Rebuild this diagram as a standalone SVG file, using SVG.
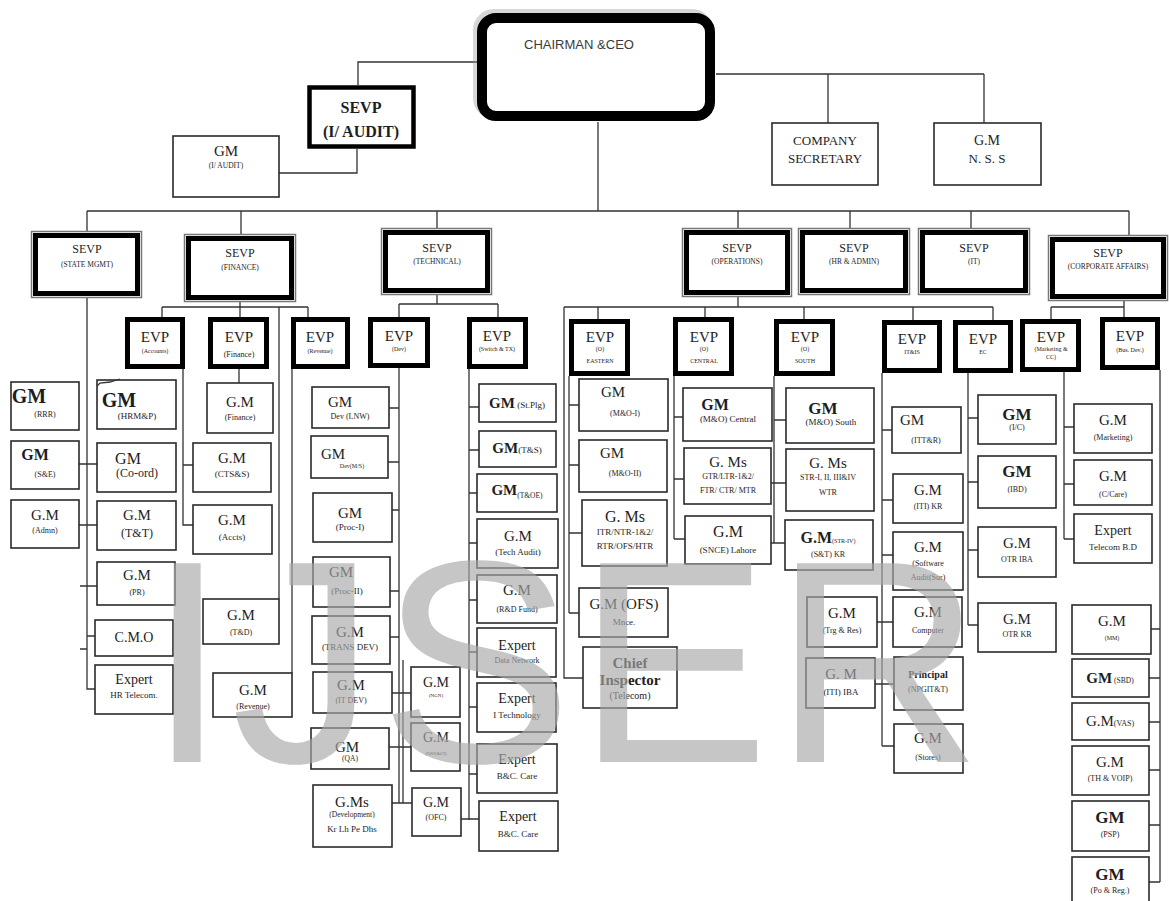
<svg xmlns="http://www.w3.org/2000/svg" width="1169" height="901" viewBox="0 0 1169 901">
<style>
.b{fill:#fff;stroke:#2a2a2a;stroke-width:1.6}
.e{fill:#fff;stroke:#000;stroke-width:5}
.so{fill:#fff;stroke:#777;stroke-width:1.5}
.si{fill:none;stroke:#000;stroke-width:5}
.c path{fill:none;stroke:#333;stroke-width:1.3}
text{font-family:"Liberation Serif","Times New Roman",serif;fill:#1e1e1e;text-anchor:middle}
.L{font-size:15px}
.G{font-size:17px;font-weight:bold}
.s{font-size:8px}
.m{font-size:9px}
.t{font-size:6px}
.v{font-size:12px}
.x{font-size:7.5px}
</style>
<rect width="1169" height="901" fill="#fff"/>

<g class="c" id="connectors">
<path d="M478,62 H358 V85"/>
<path d="M357,149 V173 H279"/>
<path d="M716,74 H984 M828,74 V123 M984,74 V123"/>
<path d="M598,122 V211 M87,211 H1129"/>
<path d="M87,211 V231 M241,211 V234 M437,211 V228 M738,211 V228 M850,211 V228 M971,211 V228 M1129,211 V235"/>
<path d="M240,302 V307 M162,307 H308 M162,307 V317 M240,307 V317 M308,307 V317 M279,307 V599"/>
<path d="M239,369 V383"/>
<path d="M183,369 V525 H193 M183,465 H193"/>
<path d="M292,368 V673"/>
<path d="M87,297 V689 H95 M79,464 H97 M79,525 H97 M80,586 H97 M87,636 H95 M80,649 H87"/>
<path d="M437,295 V304 M399,304 H498 M399,304 V317 M498,304 V317"/>
<path d="M399,368 V803 M403,660 V803 M389,408 H399 M388,462 H399 M392,510 H399 M390,591 H399 M390,637 H399 M392,693 H411 M389,747 H411 M392,803 H412"/>
<path d="M469,369 V820 M469,407 H479 M469,450 H479 M469,493 H477 M469,543 H477 M469,600 H477 M469,652 H477 M469,707 H477 M469,774 H477 M461,819 H479"/>
<path d="M738,297 V307 M564,307 H993 M564,307 V678 H583 M598,307 V319 M705,307 V317 M804,307 V319 M913,307 V320 M993,307 V320"/>
<path d="M569,376 V613 M569,405 H579 M569,465 H579 M569,533 H582 M569,613 H579"/>
<path d="M674,376 V539 M674,417 H683 M674,479 H684 M674,539 H685"/>
<path d="M774,376 V543 M774,420 H786 M771,483 H786 M771,543 H785"/>
<path d="M882,373 V746 M882,430 H892 M882,500 H893 M882,555 H893 M877,622 H893 M875,684 H894 M882,746 H894"/>
<path d="M968,373 V625 M968,418 H978 M968,482 H978 M968,550 H978 M968,625 H978"/>
<path d="M1124,301 V317 M1051,307 H1124 M1051,307 V319"/>
<path d="M1064,372 V539 M1064,427 H1074 M1064,484 H1074 M1064,539 H1074"/>
<path d="M1160,370 V882 M1151,629 H1160 M1149,678 H1160 M1149,722 H1160 M1149,770 H1160 M1149,825 H1160 M1149,882 H1160"/>
</g>

<g id="chairman">
<rect x="479" y="15" width="228" height="98" rx="15" fill="none" stroke="#9a9a9a" stroke-width="12" opacity="0.4"/>
<rect x="482" y="18" width="228" height="98" rx="14" fill="#fff" stroke="#000" stroke-width="10"/>
<text x="524" y="49" style="font-family:'Liberation Sans',Arial,sans-serif;font-size:12.5px;text-anchor:start;fill:#3a3a3a" textLength="110" lengthAdjust="spacingAndGlyphs">CHAIRMAN &amp;CEO</text>
</g>

<g id="sevp-audit">
<rect x="309.5" y="87.5" width="104" height="59" fill="#fff" stroke="#000" stroke-width="4.5"/>
<text x="361" y="113" style="font-size:16px;font-weight:bold">SEVP</text>
<text x="361" y="137" style="font-size:16px;font-weight:bold">(I/ AUDIT)</text>
</g>
<g id="gm-audit"><rect class="b" x="173" y="136" width="106" height="61"/><text class="L" x="226" y="156">GM</text><text class="x" x="226" y="168">(I/ AUDIT)</text></g>
<g id="company-secretary"><rect class="b" x="772" y="123" width="106" height="62"/><text x="825" y="145" style="font-size:13px">COMPANY</text><text x="825" y="163" style="font-size:13px">SECRETARY</text></g>
<g id="gm-nss"><rect class="b" x="934" y="123" width="107" height="62"/><text x="987" y="145" style="font-size:14px">G.M</text><text x="987" y="163" style="font-size:13px">N. S. S</text></g>

<g id="sevp-state"><rect class="so" x="31.5" y="231.5" width="110" height="66"/><rect class="si" x="35.5" y="235.5" width="102" height="58"/><text class="v" x="87" y="253">SEVP</text><text class="x" x="87" y="267">(STATE MGMT)</text></g>
<g id="sevp-finance"><rect class="so" x="184.5" y="234.5" width="111" height="67"/><rect class="si" x="188.5" y="238.5" width="103" height="59"/><text class="v" x="240" y="257">SEVP</text><text class="x" x="240" y="270">(FINANCE)</text></g>
<g id="sevp-technical"><rect class="so" x="381.5" y="228.5" width="110" height="66"/><rect class="si" x="385.5" y="232.5" width="102" height="58"/><text class="v" x="437" y="252">SEVP</text><text class="x" x="437" y="264">(TECHNICAL)</text></g>
<g id="sevp-operations"><rect class="so" x="682.5" y="228.5" width="109" height="68"/><rect class="si" x="686.5" y="232.5" width="101" height="60"/><text class="v" x="737" y="252">SEVP</text><text class="x" x="737" y="264">(OPERATIONS)</text></g>
<g id="sevp-hr"><rect class="so" x="798.5" y="228.5" width="111" height="66"/><rect class="si" x="802.5" y="232.5" width="103" height="58"/><text class="v" x="854" y="252">SEVP</text><text class="x" x="854" y="264">(HR &amp; ADMIN)</text></g>
<g id="sevp-it"><rect class="so" x="918.5" y="228.5" width="111" height="66"/><rect class="si" x="922.5" y="232.5" width="103" height="58"/><text class="v" x="974" y="252">SEVP</text><text class="x" x="974" y="264">(IT)</text></g>
<g id="sevp-corporate"><rect class="so" x="1048.5" y="235.5" width="119" height="65"/><rect class="si" x="1052.5" y="239.5" width="111" height="57"/><text class="v" x="1108" y="257">SEVP</text><text class="x" x="1108" y="269">(CORPORATE AFFAIRS)</text></g>

<g id="evp-accounts"><rect class="e" x="127.5" y="319.5" width="55" height="47"/><text class="L" x="155" y="342">EVP</text><text class="t" x="155" y="353">(Accounts)</text></g>
<g id="evp-finance"><rect class="e" x="210.5" y="319.5" width="56" height="47"/><text class="L" x="239" y="342">EVP</text><text class="s" x="239" y="357">(Finance)</text></g>
<g id="evp-revenue"><rect class="e" x="293.5" y="319.5" width="54" height="47"/><text class="L" x="320" y="342">EVP</text><text class="t" x="320" y="353">(Revenue)</text></g>
<g id="evp-dev"><rect class="e" x="370.5" y="319.5" width="57" height="46"/><text class="L" x="399" y="341">EVP</text><text class="t" x="399" y="351">(Dev)</text></g>
<g id="evp-switch"><rect class="e" x="469.5" y="319.5" width="56" height="47"/><text class="L" x="497" y="341">EVP</text><text class="t" x="497" y="351">(Switch &amp; TX)</text></g>
<g id="evp-eastern"><rect class="e" x="571.5" y="321.5" width="56" height="52"/><text class="L" x="600" y="342">EVP</text><text class="t" x="600" y="351">(O)</text><text class="t" x="600" y="363">EASTERN</text></g>
<g id="evp-central"><rect class="e" x="675.5" y="319.5" width="56" height="54"/><text class="L" x="704" y="342">EVP</text><text class="t" x="704" y="351">(O)</text><text class="t" x="704" y="363">CENTRAL</text></g>
<g id="evp-south"><rect class="e" x="776.5" y="321.5" width="56" height="52"/><text class="L" x="805" y="342">EVP</text><text class="t" x="805" y="351">(O)</text><text class="t" x="805" y="363">SOUTH</text></g>
<g id="evp-itis"><rect class="e" x="884.5" y="322.5" width="55" height="48"/><text class="L" x="912" y="344">EVP</text><text class="t" x="912" y="354">IT&amp;IS</text></g>
<g id="evp-ec"><rect class="e" x="955.5" y="322.5" width="55" height="48"/><text class="L" x="983" y="344">EVP</text><text class="t" x="983" y="354">EC</text></g>
<g id="evp-marketing"><rect class="e" x="1022.5" y="321.5" width="56" height="48"/><text class="L" x="1051" y="342">EVP</text><text class="t" x="1051" y="351">(Marketing &amp;</text><text class="t" x="1051" y="359">CC)</text></g>
<g id="evp-busdev"><rect class="e" x="1102.5" y="319.5" width="55" height="48"/><text class="L" x="1130" y="341">EVP</text><text class="t" x="1130" y="352">(Bus. Dev.)</text></g>

<g id="gm-rrr"><rect class="b" x="11" y="382" width="68" height="48"/><text x="29" y="403" style="font-size:20px;font-weight:bold">GM</text><text class="s" x="45" y="417">(RRR)</text></g>
<g id="gm-se"><rect class="b" x="11" y="441" width="68" height="48"/><text x="35" y="460" style="font-size:16px;font-weight:bold">GM</text><text class="s" x="45" y="477">(S&amp;E)</text></g>
<g id="gm-admn"><rect class="b" x="11" y="500" width="68" height="48"/><text class="L" x="45" y="520">G.M</text><text class="s" x="45" y="533">(Admn)</text></g>

<g id="gm-hrmp"><rect class="b" x="97" y="380" width="79" height="49"/><path d="M97,386 L100,383 L110,382 L120,379" fill="none" stroke="#333" stroke-width="1.3"/><text x="119" y="407" style="font-size:20px;font-weight:bold">GM</text><text class="m" x="137" y="419">(HRM&amp;P)</text></g>
<g id="gm-coord"><rect class="b" x="97" y="443" width="79" height="49"/><text x="128" y="464" style="font-size:16px">GM</text><text x="137" y="477" style="font-size:12px">(Co-ord)</text></g>
<g id="gm-tt"><rect class="b" x="97" y="501" width="79" height="49"/><text class="L" x="137" y="520">G.M</text><text class="v" x="137" y="537">(T&amp;T)</text></g>
<g id="gm-pr"><rect class="b" x="97" y="562" width="78" height="43"/><text class="L" x="137" y="580">G.M</text><text class="s" x="137" y="595">(PR)</text></g>
<g id="cmo"><rect class="b" x="95" y="620" width="78" height="36"/><text x="134" y="642" style="font-size:14px">C.M.O</text></g>
<g id="expert-hr"><rect class="b" x="95" y="665" width="78" height="49"/><text x="134" y="684" style="font-size:14px">Expert</text><text class="m" x="134" y="698">HR Telecom.</text></g>

<g id="gm-finance"><rect class="b" x="207" y="383" width="66" height="50"/><text class="L" x="240" y="407">G.M</text><text class="s" x="240" y="420">(Finance)</text></g>
<g id="gm-ctss"><rect class="b" x="193" y="443" width="78" height="49"/><text class="L" x="232" y="463">G.M</text><text class="m" x="232" y="477">(CTS&amp;S)</text></g>
<g id="gm-accts"><rect class="b" x="193" y="505" width="79" height="49"/><text class="L" x="232" y="525">G.M</text><text class="m" x="232" y="540">(Accts)</text></g>
<g id="gm-td"><rect class="b" x="203" y="599" width="76" height="45"/><text class="L" x="241" y="620">G.M</text><text class="s" x="241" y="635">(T&amp;D)</text></g>
<g id="gm-revenue"><rect class="b" x="213" y="673" width="79" height="44"/><text class="L" x="253" y="695">G.M</text><text class="s" x="253" y="709">(Revenue)</text></g>

<g id="gm-dev-lnw"><rect class="b" x="312" y="387" width="77" height="41"/><text class="L" x="340" y="407">GM</text><text class="s" x="350" y="419">Dev (LNW)</text></g>
<g id="gm-dev-ms"><rect class="b" x="311" y="436" width="77" height="42"/><text class="L" x="333" y="459">GM</text><text class="t" x="352" y="468">Dev(M/S)</text></g>
<g id="gm-proc1"><rect class="b" x="313" y="493" width="79" height="49"/><text class="L" x="350" y="518">GM</text><text class="m" x="350" y="530">(Proc-I)</text></g>
<g id="gm-proc2"><rect class="b" x="313" y="557" width="77" height="50"/><text class="L" x="341" y="577">GM</text><text class="m" x="347" y="594">(Proc-II)</text></g>
<g id="gm-transdev"><rect class="b" x="312" y="616" width="78" height="48"/><text class="L" x="350" y="637">G.M</text><text class="m" x="350" y="650">(TRANS DEV)</text></g>
<g id="gm-itdev"><rect class="b" x="313" y="672" width="79" height="41"/><text class="L" x="351" y="690">G.M</text><text class="s" x="351" y="703">(IT DEV)</text></g>
<g id="gm-qa"><rect class="b" x="311" y="728" width="78" height="41"/><text class="L" x="347" y="752">GM</text><text class="x" x="350" y="761">(QA)</text></g>
<g id="gms-development"><rect class="b" x="313" y="785" width="79" height="62"/><text class="L" x="352" y="807">G.Ms</text><text class="x" x="352" y="817">(Development)</text><text class="m" x="352" y="832">Kr Lh Pe Dhs</text></g>
<g id="gm-ngn"><rect class="b" x="411" y="667" width="49" height="50"/><text x="436" y="687" style="font-size:14px">G.M</text><text x="436" y="697" style="font-size:5px">(NGN)</text></g>
<g id="gm-oss"><rect class="b" x="411" y="723" width="49" height="48"/><text x="436" y="742" style="font-size:14px">G.M</text><text x="436" y="755" style="font-size:5px">(OSS&amp;CI)</text></g>
<g id="gm-ofc"><rect class="b" x="412" y="788" width="49" height="48"/><text x="436" y="807" style="font-size:14px">G.M</text><text class="s" x="436" y="820">(OFC)</text></g>

<g id="gm-stplg"><rect class="b" x="479" y="384" width="77" height="38"/><text x="517" y="408"><tspan style="font-size:15px;font-weight:bold">GM</tspan><tspan class="m"> (St.Plg)</tspan></text></g>
<g id="gm-ts"><rect class="b" x="479" y="431" width="77" height="36"/><text x="517" y="453"><tspan style="font-size:15px;font-weight:bold">GM</tspan><tspan class="m">(T&amp;S)</tspan></text></g>
<g id="gm-toe"><rect class="b" x="477" y="474" width="80" height="38"/><text x="517" y="495"><tspan style="font-size:15px;font-weight:bold">GM</tspan><tspan class="x" dy="3">(T&amp;OE)</tspan></text></g>
<g id="gm-techaudit"><rect class="b" x="477" y="519" width="81" height="49"/><text class="L" x="518" y="541">G.M</text><text class="m" x="518" y="555">(Tech Audit)</text></g>
<g id="gm-rdfund"><rect class="b" x="477" y="575" width="80" height="48"/><text class="L" x="517" y="595">G.M</text><text class="s" x="517" y="612">(R&amp;D Fund)</text></g>
<g id="expert-data"><rect class="b" x="477" y="628" width="79" height="49"/><text x="517" y="650" style="font-size:14px">Expert</text><text class="s" x="517" y="663">Data Network</text></g>
<g id="expert-itech"><rect class="b" x="477" y="683" width="79" height="49"/><text x="517" y="703" style="font-size:14px">Expert</text><text class="m" x="517" y="718">I Technology</text></g>
<g id="expert-bc1"><rect class="b" x="477" y="744" width="80" height="49"/><text x="517" y="764" style="font-size:14px">Expert</text><text class="m" x="517" y="779">B&amp;C. Care</text></g>
<g id="expert-bc2"><rect class="b" x="479" y="801" width="79" height="50"/><text x="518" y="821" style="font-size:14px">Expert</text><text class="m" x="518" y="837">B&amp;C. Care</text></g>

<g id="gm-mo1"><rect class="b" x="579" y="379" width="89" height="52"/><text class="L" x="613" y="397">GM</text><text class="s" x="625" y="416">(M&amp;O-I)</text></g>
<g id="gm-mo2"><rect class="b" x="579" y="440" width="88" height="52"/><text class="L" x="612" y="458">GM</text><text class="s" x="625" y="476">(M&amp;O-II)</text></g>
<g id="gms-itr"><rect class="b" x="582" y="500" width="85" height="66"/><text x="625" y="522" style="font-size:16px">G. Ms</text><text class="m" x="625" y="535">ITR/NTR-1&amp;2/</text><text class="m" x="625" y="549">RTR/OFS/HTR</text></g>
<g id="gm-ofs"><rect class="b" x="579" y="588" width="89" height="49"/><text class="L" x="624" y="609">G.M (OFS)</text><text class="m" x="624" y="625">Mnce.</text></g>
<g id="chief-inspector"><rect class="b" x="583" y="647" width="94" height="61"/><text x="630" y="668" style="font-size:15px;font-weight:bold">Chief</text><text x="630" y="685" style="font-size:15px;font-weight:bold">Inspector</text><text x="630" y="699" style="font-size:10px">(Telecom)</text></g>

<g id="gm-mo-central"><rect class="b" x="683" y="388" width="89" height="53"/><text x="715" y="410" style="font-size:16px;font-weight:bold">GM</text><text class="m" x="728" y="422">(M&amp;O) Central</text></g>
<g id="gms-gtr"><rect class="b" x="684" y="448" width="87" height="56"/><text class="L" x="728" y="467">G. Ms</text><text class="s" x="728" y="479">GTR/LTR-1&amp;2/</text><text class="s" x="728" y="493">FTR/ CTR/ MTR</text></g>
<g id="gm-snce"><rect class="b" x="685" y="516" width="86" height="48"/><text x="728" y="537" style="font-size:16px">G.M</text><text class="m" x="728" y="553">(SNCE) Lahore</text></g>

<g id="gm-mo-south"><rect class="b" x="786" y="388" width="88" height="55"/><text class="G" x="823" y="414">GM</text><text class="m" x="831" y="425">(M&amp;O) South</text></g>
<g id="gms-str"><rect class="b" x="786" y="449" width="88" height="62"/><text class="L" x="828" y="468">G. Ms</text><text class="s" x="828" y="480">STR-I, II, III&amp;IV</text><text class="s" x="828" y="495">WTR</text></g>
<g id="gm-str4"><rect class="b" x="785" y="520" width="88" height="50"/><text x="828" y="543"><tspan style="font-size:16px;font-weight:bold">G.M</tspan><tspan class="t">(STR-IV)</tspan></text><text class="s" x="828" y="557">(S&amp;T) KR</text></g>
<g id="gm-trg"><rect class="b" x="807" y="597" width="70" height="50"/><text class="L" x="842" y="618">G.M</text><text class="s" x="842" y="633">(Trg &amp; Res)</text></g>
<g id="gm-iti-iba"><rect class="b" x="806" y="658" width="69" height="50"/><text class="L" x="841" y="679">G. M</text><text class="m" x="841" y="695">(ITI) IBA</text></g>

<g id="gm-ittr"><rect class="b" x="892" y="407" width="69" height="46"/><text class="L" x="912" y="425">GM</text><text class="s" x="926" y="443">(ITT&amp;R)</text></g>
<g id="gm-iti-kr"><rect class="b" x="893" y="474" width="70" height="49"/><text class="L" x="928" y="495">G.M</text><text class="s" x="928" y="509">(ITI) KR</text></g>
<g id="gm-software"><rect class="b" x="893" y="532" width="70" height="58"/><text class="L" x="928" y="552">G.M</text><text class="s" x="928" y="566">(Software</text><text class="s" x="928" y="580">Audit(Sur)</text></g>
<g id="gm-computer"><rect class="b" x="893" y="597" width="69" height="50"/><text class="L" x="928" y="617">G.M</text><text class="s" x="928" y="633">Computer</text></g>
<g id="principal"><rect class="b" x="894" y="657" width="69" height="53"/><text x="928" y="678" style="font-size:10px;font-weight:bold">Principal</text><text class="s" x="928" y="692">(NPGIT&amp;T)</text></g>
<g id="gm-stores"><rect class="b" x="894" y="724" width="69" height="49"/><text class="L" x="928" y="743">G.M</text><text class="s" x="928" y="760">(Stores)</text></g>

<g id="gm-ic"><rect class="b" x="978" y="395" width="78" height="49"/><text class="G" x="1017" y="420">GM</text><text class="s" x="1017" y="430">(I/C)</text></g>
<g id="gm-ibd"><rect class="b" x="978" y="456" width="78" height="52"/><text class="G" x="1017" y="477">GM</text><text class="s" x="1017" y="492">(IBD)</text></g>
<g id="gm-otr-iba"><rect class="b" x="978" y="527" width="78" height="50"/><text class="L" x="1017" y="548">G.M</text><text class="s" x="1017" y="562">OTR IBA</text></g>
<g id="gm-otr-kr"><rect class="b" x="978" y="603" width="78" height="49"/><text class="L" x="1017" y="624">G.M</text><text class="s" x="1017" y="637">OTR KR</text></g>

<g id="gm-marketing"><rect class="b" x="1074" y="404" width="78" height="49"/><text class="L" x="1113" y="425">G.M</text><text class="s" x="1113" y="440">(Marketing)</text></g>
<g id="gm-ccare"><rect class="b" x="1074" y="460" width="78" height="45"/><text class="L" x="1113" y="481">G.M</text><text class="s" x="1113" y="497">(C/Care)</text></g>
<g id="expert-telecom-bd"><rect class="b" x="1074" y="514" width="78" height="49"/><text x="1113" y="535" style="font-size:14px">Expert</text><text class="m" x="1113" y="550">Telecom B.D</text></g>

<g id="gm-mm"><rect class="b" x="1072" y="605" width="79" height="49"/><text class="L" x="1112" y="626">G.M</text><text class="t" x="1112" y="640">(MM)</text></g>
<g id="gm-sbd"><rect class="b" x="1072" y="659" width="77" height="38"/><text x="1110" y="683"><tspan style="font-size:15px;font-weight:bold">GM</tspan><tspan class="x">  (SBD)</tspan></text></g>
<g id="gm-vas"><rect class="b" x="1072" y="703" width="77" height="37"/><text x="1110" y="726"><tspan class="L">G.M</tspan><tspan class="s">(VAS)</tspan></text></g>
<g id="gm-th-voip"><rect class="b" x="1072" y="746" width="77" height="49"/><text class="L" x="1110" y="767">G.M</text><text class="s" x="1110" y="781">(TH &amp; VOIP)</text></g>
<g id="gm-psp"><rect class="b" x="1072" y="801" width="77" height="50"/><text class="G" x="1110" y="823">GM</text><text class="s" x="1110" y="837">(PSP)</text></g>
<g id="gm-po-reg"><rect class="b" x="1072" y="857" width="77" height="50"/><text class="G" x="1110" y="880">GM</text><text class="s" x="1110" y="893">(Po &amp; Reg.)</text></g>

<text id="watermark" x="147" y="762" style="font-family:'Liberation Sans',Arial,sans-serif;font-size:289px;text-anchor:start;fill:#a8a8a8" opacity="0.65" letter-spacing="4">IJSER</text>
</svg>
